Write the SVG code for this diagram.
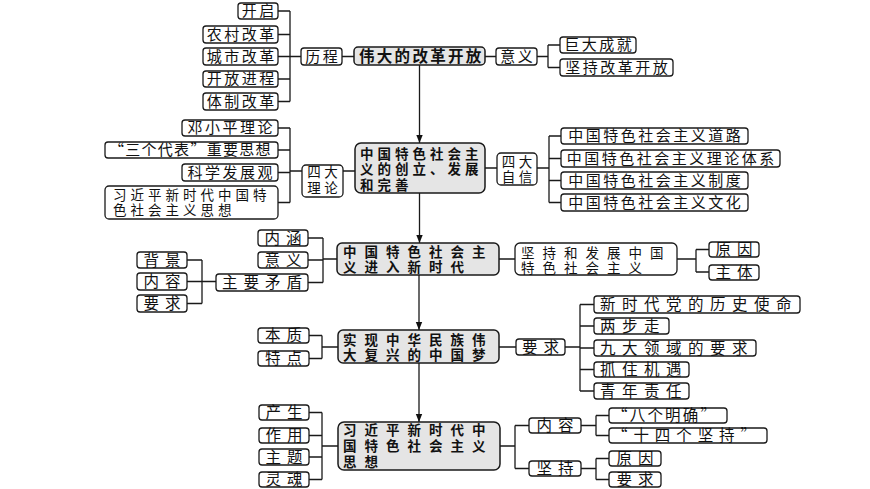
<svg xmlns="http://www.w3.org/2000/svg" width="870" height="489" viewBox="0 0 870 489">
<style>
.b{fill:#fff;stroke:#1a1a1a;stroke-width:1.3}
.m{fill:#e5e5e5;stroke:#1a1a1a;stroke-width:1.5}
.c{stroke:#1a1a1a;stroke-width:1.3;fill:none}
text{font-family:"Noto Sans CJK SC","Noto Sans",sans-serif;fill:#111}
.t1{font-size:15px;letter-spacing:2.5px;text-anchor:middle}
.t1s{font-size:15px;letter-spacing:2.5px}
.mm{font-family:"Liberation Sans","Noto Sans CJK SC",sans-serif}
.ml{font-size:13.5px;letter-spacing:4px}
.mlc{font-size:13.5px;letter-spacing:3.5px;text-anchor:middle}
.mb1{font-size:15.5px;font-weight:bold;letter-spacing:2.3px}
.mb2{font-size:13.5px;font-weight:bold;letter-spacing:4px}
.t3{font-size:15.5px;letter-spacing:6px;text-anchor:middle}
.t3s{font-size:15.5px;letter-spacing:6px}
.t4s{font-size:15.5px;letter-spacing:6.5px}
.mb3{font-size:13.5px;font-weight:bold;letter-spacing:8px}
.ml3{font-size:13.5px;letter-spacing:8px}
</style>
<defs>
<marker id="arr" viewBox="0 0 10 10" refX="10" refY="5" markerWidth="8" markerHeight="8" markerUnits="userSpaceOnUse" orient="auto"><path d="M0,1 L10,5 L0,9 z" fill="#111"/></marker>
</defs>

<g id="connectors">
<path class="c" d="M278,11H290M278,34.5H290M278,56.5H301M278,79H290M278,101.5H290M290,11V101.5"/>
<path class="c" d="M342,56.5H354M485,56.5H496M537,56.5H548M548,45V67.5M548,45H560M548,67.5H560"/>
<path class="c" d="M419.5,65V143" marker-end="url(#arr)"/>
<path class="c" d="M278,128H290M278,150H290M278,172.5H290M278,202.5H290M290,128V202.5M290,171H302M343,171H355"/>
<path class="c" d="M485,168H497M537,168H549M549,136V202.5M549,136H561M549,158.5H561M549,180.5H561M549,202.5H561"/>
<path class="c" d="M419.5,193V243" marker-end="url(#arr)"/>
<path class="c" d="M308,238H323M308,260H323M308,282.5H323M323,238V282.5M323,259H337"/>
<path class="c" d="M187,260H202M187,281.5H216M187,303.5H202M202,260V303.5"/>
<path class="c" d="M499,259H515M677,259H696M696,249.5V272M696,249.5H709M696,272H709"/>
<path class="c" d="M419,275V330" marker-end="url(#arr)"/>
<path class="c" d="M309,335.5H322M309,358.5H322M322,335.5V358.5M322,347H338"/>
<path class="c" d="M499,347H516M565,347H580M580,304.5V391M580,304.5H594M580,326H594M580,348H594M580,369.5H594M580,391H594"/>
<path class="c" d="M419,363V422" marker-end="url(#arr)"/>
<path class="c" d="M309,412.5H322M309,435.5H322M309,457H322M309,479.5H322M322,412.5V479.5M322,446H338"/>
<path class="c" d="M500,446H515M515,425.5V468.5M515,425.5H529M515,468.5H529"/>
<path class="c" d="M581,425.5H596M596,415.5V435.5M596,415.5H609M596,435.5H609"/>
<path class="c" d="M581,468.5H596M596,458.5V479.5M596,458.5H609M596,479.5H609"/>
</g>

<g id="n-kaiqi"><rect class="b" x="238" y="3" width="40" height="16" rx="3"/><text class="t1" x="259.25" y="16.4">开启</text></g>
<g id="n-nongcun"><rect class="b" x="203" y="26" width="75" height="17" rx="3"/><text class="t1" x="241.75" y="39.9">农村改革</text></g>
<g id="n-chengshi"><rect class="b" x="203" y="48" width="75" height="17" rx="3"/><text class="t1" x="241.75" y="61.9">城市改革</text></g>
<g id="n-kaifang"><rect class="b" x="203" y="71" width="75" height="16" rx="3"/><text class="t1" x="241.75" y="84.4">开放进程</text></g>
<g id="n-tizhi"><rect class="b" x="203" y="93" width="75" height="17" rx="3"/><text class="t1" x="241.75" y="106.9">体制改革</text></g>
<g id="n-licheng"><rect class="b" x="301" y="48" width="41" height="17" rx="3"/><text class="t1" x="322.75" y="61.9">历程</text></g>
<g id="n-main1"><rect class="m" x="354" y="47" width="131" height="18" rx="4"/><text class="mb1" x="359" y="61.6">伟大的改革开放</text></g>
<g id="n-yiyi1"><rect class="b" x="496" y="48" width="41" height="17" rx="3"/><text class="t1" x="517.75" y="61.9">意义</text></g>
<g id="n-juda"><rect class="b" x="560" y="37" width="76" height="16" rx="3"/><text class="t1" x="599.25" y="50.4">巨大成就</text></g>
<g id="n-jianchi1"><rect class="b" x="560" y="59" width="113" height="17" rx="3"/><text class="t1" x="617.75" y="72.9">坚持改革开放</text></g>

<g id="n-deng"><rect class="b" x="182" y="120" width="96" height="16" rx="3"/><text class="t1" x="231.25" y="133.4">邓小平理论</text></g>
<g id="n-sange"><rect class="b" x="105" y="142" width="173" height="16" rx="3"/><text class="t1s" x="109" y="155.4" textLength="164" lengthAdjust="spacing">“三个代表”重要思想</text></g>
<g id="n-kexue"><rect class="b" x="182" y="164" width="96" height="17" rx="3"/><text class="t1" x="231.25" y="177.9">科学发展观</text></g>
<g id="n-xisixiang"><rect class="b" x="105" y="186" width="173" height="33" rx="4"/><text class="ml mm"><tspan x="113" y="199.5">习近平新时代中国特</tspan><tspan x="113" y="215">色社会主义思想</tspan></text></g>
<g id="n-sidalilun"><rect class="b" x="302" y="165" width="41" height="32" rx="4"/><text class="mlc mm"><tspan x="324.2" y="177">四大</tspan><tspan x="324.2" y="192.5">理论</tspan></text></g>
<g id="n-main2"><rect class="m" x="355" y="143" width="130" height="50" rx="6"/><text class="mb2 mm"><tspan x="360" y="158.5">中国特色社会主</tspan><tspan x="360" y="174">义的创立、发展</tspan><tspan x="360" y="189.5">和完善</tspan></text></g>
<g id="n-sidazixin"><rect class="b" x="497" y="153" width="40" height="32" rx="4"/><text class="mlc mm"><tspan x="518.7" y="166.5">四大</tspan><tspan x="518.7" y="182">自信</tspan></text></g>
<g id="n-daolu"><rect class="b" x="561" y="128" width="187" height="16" rx="3"/><text class="t1" x="655.75" y="141.4">中国特色社会主义道路</text></g>
<g id="n-lilun"><rect class="b" x="561" y="150" width="219" height="17" rx="3"/><text class="t1" x="671.75" y="163.9">中国特色社会主义理论体系</text></g>
<g id="n-zhidu"><rect class="b" x="561" y="172" width="187" height="17" rx="3"/><text class="t1" x="655.75" y="185.9">中国特色社会主义制度</text></g>
<g id="n-wenhua"><rect class="b" x="561" y="194" width="187" height="17" rx="3"/><text class="t1" x="655.75" y="207.9">中国特色社会主义文化</text></g>

<g id="n-neihan"><rect class="b" x="258" y="230" width="50" height="16" rx="3"/><text class="t3" x="286" y="243.6">内涵</text></g>
<g id="n-yiyi3"><rect class="b" x="258" y="252" width="50" height="16" rx="3"/><text class="t3" x="286" y="265.6">意义</text></g>
<g id="n-maodun"><rect class="b" x="216" y="274" width="92" height="17" rx="3"/><text class="t3" x="265" y="288.1">主要矛盾</text></g>
<g id="n-beijing"><rect class="b" x="137" y="252" width="50" height="16" rx="3"/><text class="t3" x="165" y="265.6">背景</text></g>
<g id="n-neirong3"><rect class="b" x="137" y="273" width="50" height="17" rx="3"/><text class="t3" x="165" y="287.1">内容</text></g>
<g id="n-yaoqiu3"><rect class="b" x="137" y="295" width="50" height="17" rx="3"/><text class="t3" x="165" y="309.1">要求</text></g>
<g id="n-main3"><rect class="m" x="337" y="243" width="162" height="32" rx="5"/><text class="mb3 mm"><tspan x="343" y="256.5">中国特色社会主</tspan><tspan x="343" y="272">义进入新时代</tspan></text></g>
<g id="n-jianchifazhan"><rect class="b" x="515" y="243" width="162" height="32" rx="5"/><text class="ml3 mm"><tspan x="521" y="257.5">坚持和发展中国</tspan><tspan x="521" y="273">特色社会主义</tspan></text></g>
<g id="n-yuanyin3"><rect class="b" x="709" y="242" width="50" height="15" rx="3"/><text class="t3" x="737" y="255">原因</text></g>
<g id="n-zhuti3"><rect class="b" x="709" y="265" width="50" height="15" rx="3"/><text class="t3" x="737" y="278">主体</text></g>

<g id="n-benzhi"><rect class="b" x="258" y="328" width="51" height="15" rx="3"/><text class="t3" x="286.5" y="341">本质</text></g>
<g id="n-tedian"><rect class="b" x="258" y="351" width="51" height="15" rx="3"/><text class="t3" x="286.5" y="364">特点</text></g>
<g id="n-main4"><rect class="m" x="338" y="330" width="161" height="33" rx="5"/><text class="mb3 mm"><tspan x="343" y="344.5">实现中华民族伟</tspan><tspan x="343" y="360">大复兴的中国梦</tspan></text></g>
<g id="n-yaoqiu4"><rect class="b" x="516" y="339" width="49" height="16" rx="3"/><text class="t3" x="543.5" y="352.6">要求</text></g>
<g id="n-shiming"><rect class="b" x="594" y="296" width="206" height="17" rx="3"/><text class="t4s" x="600" y="310.1">新时代党的历史使命</text></g>
<g id="n-liangbu"><rect class="b" x="594" y="318" width="75" height="16" rx="3"/><text class="t4s" x="600" y="331.6">两步走</text></g>
<g id="n-jiuda"><rect class="b" x="594" y="340" width="162" height="16" rx="3"/><text class="t4s" x="600" y="353.6">九大领域的要求</text></g>
<g id="n-jiyu"><rect class="b" x="594" y="362" width="95" height="15" rx="3"/><text class="t4s" x="600" y="375.1">抓住机遇</text></g>
<g id="n-qingnian"><rect class="b" x="594" y="383" width="95" height="16" rx="3"/><text class="t4s" x="600" y="396.6">青年责任</text></g>

<g id="n-chansheng"><rect class="b" x="259" y="405" width="50" height="15" rx="3"/><text class="t3" x="287" y="418">产生</text></g>
<g id="n-zuoyong"><rect class="b" x="259" y="428" width="50" height="15" rx="3"/><text class="t3" x="287" y="441">作用</text></g>
<g id="n-zhuti5"><rect class="b" x="259" y="449" width="50" height="16" rx="3"/><text class="t3" x="287" y="462.6">主题</text></g>
<g id="n-linghun"><rect class="b" x="259" y="472" width="50" height="15" rx="3"/><text class="t3" x="287" y="485">灵魂</text></g>
<g id="n-main5"><rect class="m" x="338" y="422" width="162" height="48" rx="6"/><text class="mb3 mm"><tspan x="343" y="435">习近平新时代中</tspan><tspan x="343" y="451">国特色社会主义</tspan><tspan x="343" y="466.5">思想</tspan></text></g>
<g id="n-neirong5"><rect class="b" x="529" y="418" width="52" height="15" rx="3"/><text class="t3" x="558" y="431">内容</text></g>
<g id="n-jianchi5"><rect class="b" x="529" y="461" width="52" height="15" rx="3"/><text class="t3" x="558" y="474">坚持</text></g>
<g id="n-bage"><rect class="b" x="609" y="408" width="118" height="15" rx="3"/><text class="t3s" x="612" y="421" textLength="110" lengthAdjust="spacing">“八个明确”</text></g>
<g id="n-shisi"><rect class="b" x="609" y="428" width="158" height="15" rx="3"/><text class="t3s" x="612" y="441" textLength="150" lengthAdjust="spacing">“十四个坚持”</text></g>
<g id="n-yuanyin5"><rect class="b" x="609" y="451" width="52" height="15" rx="3"/><text class="t3" x="638" y="464">原因</text></g>
<g id="n-yaoqiu5"><rect class="b" x="609" y="472" width="52" height="15" rx="3"/><text class="t3" x="638" y="485">要求</text></g>
</svg>
